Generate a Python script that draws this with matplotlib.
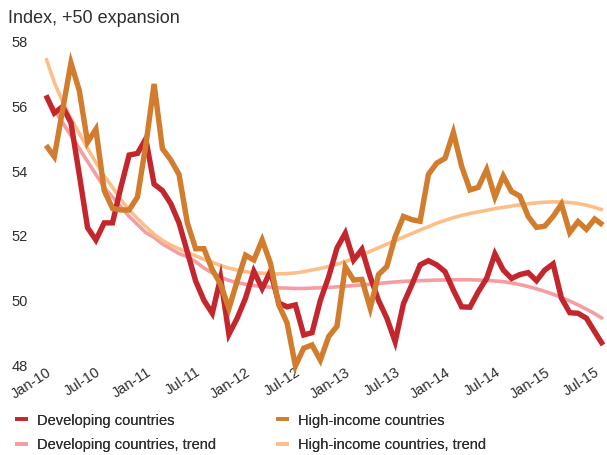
"""
plot.py

PMI-style index chart: developing vs high-income countries, monthly
Jan-10 to Aug-15, with smoothed trend lines.
"""

import matplotlib

matplotlib.use("Agg")

import matplotlib.pyplot as plt  # noqa: E402
import matplotlib.transforms as mtransforms  # noqa: E402

plt.rcParams["font.family"] = ["Liberation Sans", "DejaVu Sans"]

# Monthly, Jan-2010 .. Aug-2015 (68 points)
developing = [
    56.35, 55.8, 56.0, 55.5, 53.9, 52.25, 51.87, 52.4, 52.4, 53.5,
    54.5, 54.55, 55.0, 53.6, 53.4, 53.0, 52.4, 51.5, 50.6, 50.0,
    49.6, 50.7, 48.95, 49.45, 50.07, 50.9, 50.37, 50.9, 49.92, 49.8,
    49.86, 48.93, 49.0, 50.0, 50.73, 51.62, 52.08, 51.25, 51.58, 50.73,
    50.0, 49.45, 48.72, 49.9, 50.48, 51.1, 51.23, 51.1, 50.89, 50.32,
    49.8, 49.79, 50.27, 50.68, 51.44, 50.94, 50.68, 50.8, 50.86, 50.61,
    50.94, 51.13, 50.07, 49.62, 49.6, 49.45, 49.03, 48.62,
]
high_income = [
    54.8, 54.45, 55.9, 57.35, 56.5, 54.9, 55.3, 53.4, 52.85, 52.8,
    52.8, 53.2, 54.8, 56.7, 54.7, 54.35, 53.9, 52.4, 51.6, 51.6,
    50.95, 50.5, 49.75, 50.6, 51.4, 51.25, 51.87, 51.15, 49.86, 49.3,
    47.97, 48.52, 48.62, 48.15, 48.88, 49.2, 51.04, 50.63, 50.65, 49.76,
    50.8, 51.05, 51.97, 52.6, 52.5, 52.45, 53.9, 54.25, 54.4, 55.2,
    54.15, 53.42, 53.5, 54.05, 53.2, 53.85, 53.37, 53.23, 52.6, 52.26,
    52.3, 52.6, 52.98, 52.1, 52.44, 52.2, 52.52, 52.33,
]
developing_trend = [
    56.3, 55.9, 55.5, 55.1, 54.7, 54.3, 53.9, 53.5, 53.2, 52.9,
    52.6, 52.35, 52.1, 51.95, 51.75, 51.6, 51.45, 51.35, 51.2, 51.0,
    50.85, 50.72, 50.62, 50.55, 50.5, 50.46, 50.43, 50.41, 50.39, 50.38,
    50.37, 50.37, 50.38, 50.39, 50.4, 50.42, 50.44, 50.46, 50.48, 50.5,
    50.52, 50.55, 50.57, 50.59, 50.6, 50.61, 50.62, 50.63, 50.63, 50.64,
    50.64, 50.64, 50.63, 50.62, 50.6, 50.58, 50.54, 50.49, 50.43, 50.36,
    50.28, 50.19, 50.09, 49.98, 49.86, 49.73, 49.59, 49.43,
]
high_income_trend = [
    57.5, 56.75, 56.15, 55.63, 55.17, 54.7, 54.27, 53.86, 53.5, 53.12,
    52.8, 52.53, 52.28, 52.05, 51.86, 51.71, 51.6, 51.48, 51.38, 51.27,
    51.18, 51.08, 51.0, 50.94, 50.89, 50.86, 50.84, 50.83, 50.82, 50.83,
    50.85, 50.89, 50.94, 50.99, 51.05, 51.12, 51.2, 51.3, 51.41, 51.52,
    51.63, 51.74, 51.85, 51.96, 52.07, 52.18, 52.28, 52.39, 52.48, 52.56,
    52.63, 52.69, 52.74, 52.79, 52.84, 52.88, 52.92, 52.96, 52.99, 53.02,
    53.04, 53.05, 53.05, 53.03, 53.0, 52.95, 52.88, 52.8,
]
tick_labels = ["Jan-10", "Jul-10", "Jan-11", "Jul-11", "Jan-12", "Jul-12",
               "Jan-13", "Jul-13", "Jan-14", "Jul-14", "Jan-15", "Jul-15"]
y_ticks = [48, 50, 52, 54, 56, 58]

RED = "#c4262e"
ORANGE = "#d27d2d"
PINK = "#f59ea2"
PEACH = "#fdbf8a"
TEXT = "#2e2e2e"

months = list(range(len(developing)))

fig = plt.figure(figsize=(6.07, 4.55), dpi=100)
ax = fig.add_axes([0.0758, 0.1978, 0.9176, 0.7099])

ax.plot(months, developing_trend, color=PINK, lw=2.6, solid_capstyle="butt", label="Developing countries, trend")
ax.plot(months, high_income_trend, color=PEACH, lw=2.6, solid_capstyle="butt", label="High-income countries, trend")
ax.plot(months, developing, color=RED, lw=3.9, solid_joinstyle="miter", solid_capstyle="butt", label="Developing countries")
ax.plot(months, high_income, color=ORANGE, lw=3.9, solid_joinstyle="miter", solid_capstyle="butt", label="High-income countries")

ax.set_xlim(0, len(months) - 1)
ax.set_ylim(48, 58)
for s in ax.spines.values():
    s.set_visible(False)
ax.tick_params(length=0, colors=TEXT, labelsize=10.5)
ax.set_yticks(y_ticks)
ax.set_yticklabels([str(v) for v in y_ticks])
ax.tick_params(axis="y", pad=13)
ax.set_xticks(range(0, 67, 6))
# rotated labels end just right of / below their month
offset = mtransforms.ScaledTranslation(9 / 100, -11 / 100, fig.dpi_scale_trans)
ax.set_xticklabels(tick_labels, rotation=33, ha="right", va="top", rotation_mode="anchor")
for lab in ax.get_xticklabels():
    lab.set_transform(lab.get_transform() + offset)
ax.tick_params(axis="x", pad=0)
for ln in ax.get_lines():
    ln.set_clip_on(False)

fig.text(0.013, 0.96, "Index, +50 expansion", fontsize=13, color=TEXT, va="center", ha="left")

lines = {ln.get_label(): ln for ln in ax.get_lines()}
cols = [(["Developing countries", "Developing countries, trend"], 0.003),
        (["High-income countries", "High-income countries, trend"], 0.433)]
for names, x in cols:
    leg = fig.legend([lines[n] for n in names], names, loc="upper left",
                     bbox_to_anchor=(x, 0.12), bbox_transform=fig.transFigure,
                     frameon=False, fontsize=10.5, handlelength=0.9,
                     handletextpad=0.6, labelspacing=0.75, labelcolor=TEXT)
    for h in leg.legend_handles:
        h.set_linewidth(2.6)
    fig.add_artist(leg)

fig.savefig("out.png", dpi=100)
plt.close(fig)
